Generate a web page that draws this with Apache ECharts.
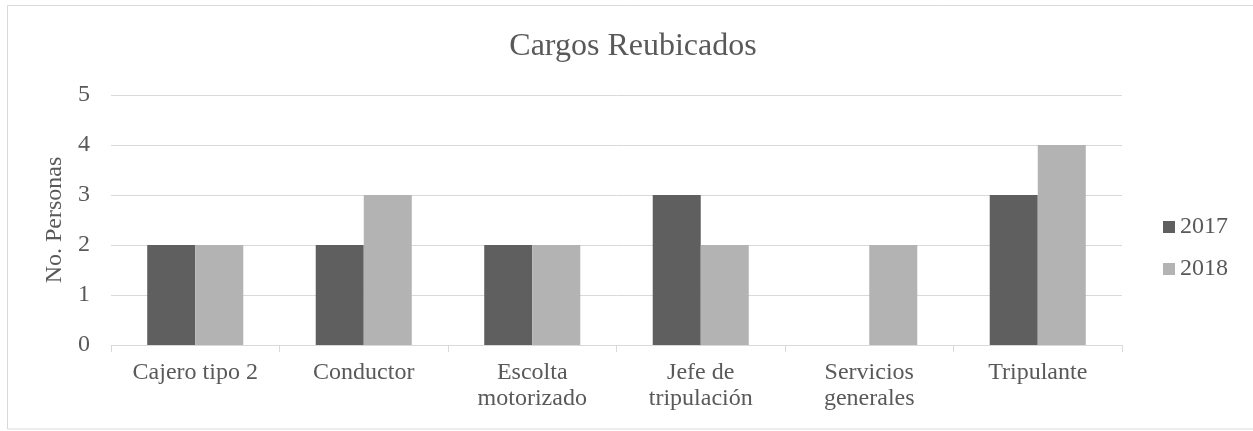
<!DOCTYPE html>
<html>
<head>
<meta charset="utf-8">
<script src="https://cdn.jsdelivr.net/npm/echarts@6/dist/echarts.min.js"></script>
<style>html,body{margin:0;padding:0;background:#fff}#c{width:1253px;height:431px}</style>
</head>
<body>
<div id="c"></div>
<script>
const categories = ['Cajero tipo 2', 'Conductor', 'Escolta\nmotorizado', 'Jefe de\ntripulación', 'Servicios\ngenerales', 'Tripulante'];
const values2017 = [2, 2, 2, 3, 0, 3];
const values2018 = [2, 3, 2, 2, 2, 4];
const seriesNames = ['2017', '2018'];
const yTicks = [0, 1, 2, 3, 4, 5];

const font = 'Liberation Serif, Times New Roman, serif';
const txt = '#595959';
const chart = echarts.init(document.getElementById('c'), null, {renderer: 'canvas'});
chart.setOption({
  animation: false,
  backgroundColor: '#fff',
  graphic: [{
    type: 'rect', silent: true,
    shape: {x: 7.5, y: 5.5, width: 1260, height: 423.5},
    style: {fill: 'none', stroke: '#d9d9d9', lineWidth: 1}
  }],
  title: {
    text: 'Cargos Reubicados', left: 628, top: 26, textAlign: 'center',
    textStyle: {fontFamily: font, fontSize: 32, fontWeight: 'normal', color: txt}
  },
  legend: {
    orient: 'vertical', left: 1163, top: 215, padding: 0, itemWidth: 12, itemHeight: 12, itemGap: 18,
    icon: 'rect',
    textStyle: {fontFamily: font, fontSize: 24, color: txt, padding: [0, 0, 0, 0]},
    data: seriesNames
  },
  grid: {left: 111, right: 131, top: 95, bottom: 86},
  xAxis: {
    type: 'category', data: categories,
    axisLine: {lineStyle: {color: '#d9d9d9', width: 1}},
    axisTick: {show: true, length: 7, lineStyle: {color: '#d9d9d9'}},
    axisLabel: {fontFamily: font, fontSize: 24, color: txt, margin: 15, lineHeight: 26, interval: 0}
  },
  yAxis: {
    type: 'value', min: yTicks[0], max: yTicks[yTicks.length - 1], interval: 1,
    name: 'No. Personas', nameLocation: 'middle', nameGap: 43, nameRotate: 90,
    nameTextStyle: {fontFamily: font, fontSize: 24, color: txt},
    axisLine: {show: false}, axisTick: {show: false},
    axisLabel: {fontFamily: font, fontSize: 24, color: txt, margin: 21},
    splitLine: {lineStyle: {color: '#d9d9d9', width: 1}}
  },
  series: [
    {name: seriesNames[0], type: 'bar', data: values2017, barGap: '0%', barCategoryGap: '43%',
     itemStyle: {color: '#5f5f5f'}},
    {name: seriesNames[1], type: 'bar', data: values2018, barGap: '0%', barCategoryGap: '43%',
     itemStyle: {color: '#b3b3b3'}}
  ]
});
</script>
</body>
</html>
